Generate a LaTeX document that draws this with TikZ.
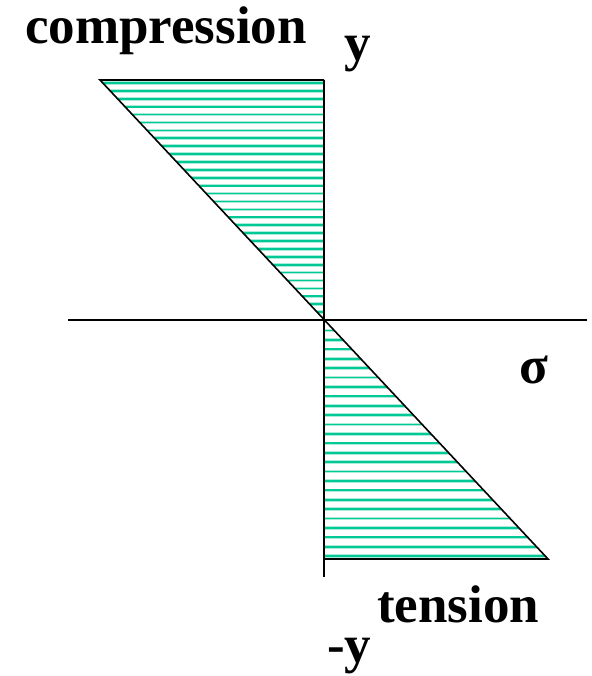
\documentclass[tikz,border=0pt]{standalone}
\usepackage{fontspec}
\setmainfont{Liberation Serif}
\begin{document}
\begin{tikzpicture}[x=1pt,y=-1pt,
  axis/.style={line width=1.6pt,black},
  edge/.style={line width=1.6pt,black},
  hatchhalo/.style={line width=3.6pt,color={rgb,255:red,170;green,236;blue,214}},
  hatchline/.style={line width=1.7pt,color={rgb,255:red,0;green,200;blue,150}},
  lbl/.style={font=\fontsize{53}{60}\selectfont\bfseries,inner sep=0pt,anchor=base west}]
\useasboundingbox (0,0) rectangle (591,676);
\coordinate (O) at (324,320);
\coordinate (TL) at (100,80);
\coordinate (TR) at (324,80);
\coordinate (BR) at (548,559);
\coordinate (BL) at (324,559);
\coordinate (VB) at (324,577);
\coordinate (HL) at (68,320);
\coordinate (HR) at (587,320);
% hatching top
\begin{scope}
\clip (TL) -- (TR) -- (O) -- cycle;
\foreach \yy in {83,90.9,...,320} {\draw[hatchhalo] (90,\yy) -- (330,\yy);}
\foreach \yy in {83,90.9,...,320} {\draw[hatchline] (90,\yy) -- (330,\yy);}
\end{scope}
% hatching bottom
\begin{scope}
\clip (O) -- (BR) -- (BL) -- cycle;
\foreach \yy in {330.5,339.9,...,559} {\draw[hatchhalo] (320,\yy) -- (560,\yy);}
\foreach \yy in {330.5,339.9,...,559} {\draw[hatchline] (320,\yy) -- (560,\yy);}
\end{scope}
\draw[edge] (TR) -- (TL) -- (BR) -- (BL);
\draw[axis] (TR) -- (VB);
\draw[axis] (HL) -- (HR);
\node[lbl] (comp) at (25,44) {compression};
\node[lbl] (yl) at (344,61) {y};
\node[lbl] (sig) at (519,383) {σ};
\node[lbl] (ten) at (377,622) {tension};
\node[lbl] (myl) at (327,662) {-y};
\end{tikzpicture}
\end{document}
